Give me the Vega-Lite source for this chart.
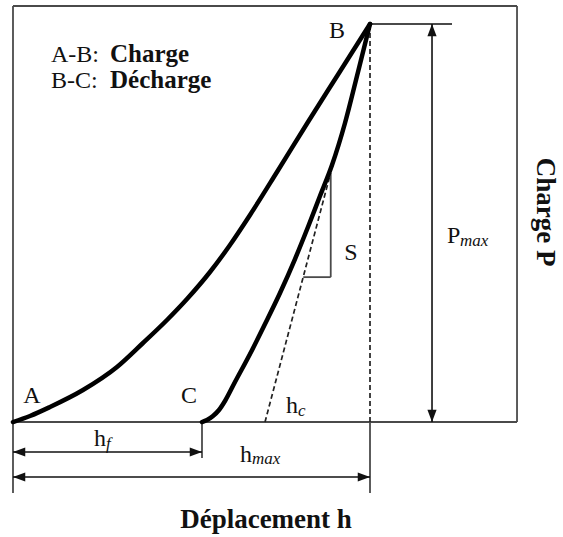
{
  "$schema": "https://vega.github.io/schema/vega-lite/v6.json",
  "description": "Courbe charge-déplacement d'un essai d'indentation : charge A-B, décharge B-C, tangente S et profondeurs h_f, h_c, h_max.",
  "width": 563,
  "height": 537,
  "autosize": {"type": "fit", "contains": "padding"},
  "padding": 0,
  "background": "white",
  "config": {"view": {"stroke": null}, "text": {"font": "Liberation Serif", "color": "#111"}},
  "datasets": {
    "curves": [
      {"branch": "charge", "h": 0, "P": 0},
      {"branch": "charge", "h": 0.0476, "P": 0.0151},
      {"branch": "charge", "h": 0.1036, "P": 0.0377},
      {"branch": "charge", "h": 0.1961, "P": 0.0804},
      {"branch": "charge", "h": 0.2913, "P": 0.1382},
      {"branch": "charge", "h": 0.3641, "P": 0.1985},
      {"branch": "charge", "h": 0.4314, "P": 0.2563},
      {"branch": "charge", "h": 0.4874, "P": 0.309},
      {"branch": "charge", "h": 0.5518, "P": 0.3769},
      {"branch": "charge", "h": 0.6078, "P": 0.4447},
      {"branch": "charge", "h": 0.6639, "P": 0.5201},
      {"branch": "charge", "h": 0.7395, "P": 0.6281},
      {"branch": "charge", "h": 0.8263, "P": 0.7538},
      {"branch": "charge", "h": 0.9132, "P": 0.8769},
      {"branch": "charge", "h": 1.0, "P": 1.0},
      {"branch": "decharge", "h": 0.5294, "P": 0},
      {"branch": "decharge", "h": 0.5434, "P": 0.005},
      {"branch": "decharge", "h": 0.5602, "P": 0.0151},
      {"branch": "decharge", "h": 0.577, "P": 0.0302},
      {"branch": "decharge", "h": 0.5938, "P": 0.0528},
      {"branch": "decharge", "h": 0.6218, "P": 0.1005},
      {"branch": "decharge", "h": 0.6639, "P": 0.1709},
      {"branch": "decharge", "h": 0.7059, "P": 0.2462},
      {"branch": "decharge", "h": 0.7479, "P": 0.3241},
      {"branch": "decharge", "h": 0.7899, "P": 0.4095},
      {"branch": "decharge", "h": 0.8263, "P": 0.4899},
      {"branch": "decharge", "h": 0.8599, "P": 0.5678},
      {"branch": "decharge", "h": 0.8936, "P": 0.6457},
      {"branch": "decharge", "h": 0.93, "P": 0.7513},
      {"branch": "decharge", "h": 0.9664, "P": 0.8794},
      {"branch": "decharge", "h": 1.0, "P": 1.0}
    ],
    "frame": [
      {"part": "bas", "h": 0, "P": 0, "h2": 1.4118, "P2": 0},
      {"part": "haut", "h": 0, "P": 1.0452, "h2": 1.4118, "P2": 1.0452},
      {"part": "gauche", "h": 0, "P": -0.1784, "h2": 0, "P2": 1.0452},
      {"part": "droite", "h": 1.4118, "P": 0, "h2": 1.4118, "P2": 1.0452},
      {"part": "repere hmax", "h": 1.0, "P": -0.1784, "h2": 1.0, "P2": 0},
      {"part": "repere hf", "h": 0.5294, "P": -0.0905, "h2": 0.5294, "P2": 0},
      {"part": "niveau Pmax", "h": 1.0, "P": 1.0, "h2": 1.2297, "P2": 1.0},
      {"part": "S vertical", "h": 0.89, "P": 0.364, "h2": 0.89, "P2": 0.626},
      {"part": "S horizontal", "h": 0.813, "P": 0.364, "h2": 0.89, "P2": 0.364}
    ],
    "dims": [
      {"dim": "Pmax", "h": 1.1737, "P": 0, "h2": 1.1737, "P2": 1.0},
      {"dim": "hf", "h": 0, "P": -0.0754, "h2": 0.5294, "P2": -0.0754},
      {"dim": "hmax", "h": 0, "P": -0.1382, "h2": 1.0, "P2": -0.1382}
    ],
    "heads": [
      {"dim": "Pmax", "dir": "up", "h": 1.1737, "P": 1.0},
      {"dim": "Pmax", "dir": "down", "h": 1.1737, "P": 0},
      {"dim": "hf", "dir": "left", "h": 0, "P": -0.0754},
      {"dim": "hf", "dir": "right", "h": 0.5294, "P": -0.0754},
      {"dim": "hmax", "dir": "left", "h": 0, "P": -0.1382},
      {"dim": "hmax", "dir": "right", "h": 1.0, "P": -0.1382}
    ],
    "dashed": [
      {"line": "hmax", "h": 1.0, "P": 0, "h2": 1.0, "P2": 1.0},
      {"line": "tangente", "h": 0.7059, "P": 0, "h2": 0.888, "P2": 0.62}
    ],
    "points": [
      {"label": "A", "h": 0.0532, "P": 0.0477},
      {"label": "C", "h": 0.493, "P": 0.0477},
      {"label": "B", "h": 0.9076, "P": 0.9648},
      {"label": "S", "h": 0.9468, "P": 0.407}
    ],
    "tags": [
      {"label": "A-B:", "h": 0.1064, "P": 0.9045},
      {"label": "B-C:", "h": 0.1064, "P": 0.8392},
      {"label": "h", "h": 0.7647, "P": 0.0226},
      {"label": "h", "h": 0.2269, "P": -0.0603},
      {"label": "h", "h": 0.6359, "P": -0.1005},
      {"label": "P", "h": 1.2157, "P": 0.4497}
    ],
    "phases": [
      {"label": "Charge", "h": 0.2717, "P": 0.9045},
      {"label": "Décharge", "h": 0.2717, "P": 0.8392}
    ],
    "subs": [
      {"label": "c", "h": 0.7983, "P": 0.0151},
      {"label": "f", "h": 0.2605, "P": -0.0678},
      {"label": "max", "h": 0.6695, "P": -0.1055},
      {"label": "max", "h": 1.2521, "P": 0.4422}
    ],
    "xtitle": [{"label": "Déplacement h", "h": 0.7087, "P": -0.2663}],
    "ytitle": [{"label": "Charge P", "h": 1.4902, "P": 0.5276}]
  },
  "encoding": {
    "x": {"field": "h", "type": "quantitative", "scale": {"domain": [-0.0364, 1.5406], "nice": false, "zero": false}, "axis": null},
    "y": {"field": "P", "type": "quantitative", "scale": {"domain": [-0.2889, 1.0603], "nice": false, "zero": false}, "axis": null}
  },
  "layer": [
    {
      "data": {"name": "frame"},
      "mark": {"type": "rule", "color": "#4a4a4a", "strokeWidth": 1.8},
      "encoding": {"x2": {"field": "h2"}, "y2": {"field": "P2"}}
    },
    {
      "data": {"name": "dashed"},
      "mark": {"type": "rule", "color": "#222", "strokeWidth": 1.7, "strokeDash": [5, 3]},
      "encoding": {"x2": {"field": "h2"}, "y2": {"field": "P2"}}
    },
    {
      "data": {"name": "dims"},
      "mark": {"type": "rule", "color": "#111", "strokeWidth": 1.6},
      "encoding": {"x2": {"field": "h2"}, "y2": {"field": "P2"}}
    },
    {
      "data": {"name": "heads"},
      "mark": {"type": "point", "filled": true, "color": "#111", "opacity": 1, "size": 150, "strokeWidth": 0},
      "encoding": {
        "shape": {
          "field": "dir",
          "type": "nominal",
          "legend": null,
          "scale": {
            "domain": ["up", "down", "left", "right"],
            "range": ["M0,0L-0.75,2L0.75,2Z", "M0,0L-0.75,-2L0.75,-2Z", "M0,0L2,-0.75L2,0.75Z", "M0,0L-2,-0.75L-2,0.75Z"]
          }
        }
      }
    },
    {
      "data": {"name": "curves"},
      "mark": {"type": "line", "color": "#000", "strokeWidth": 4.5, "interpolate": "monotone", "strokeCap": "round", "strokeJoin": "round"},
      "encoding": {"detail": {"field": "branch", "type": "nominal"}}
    },
    {
      "data": {"name": "points"},
      "mark": {"type": "text", "fontSize": 24, "align": "center", "baseline": "alphabetic"},
      "encoding": {"text": {"field": "label"}}
    },
    {
      "data": {"name": "tags"},
      "mark": {"type": "text", "fontSize": 24, "align": "left", "baseline": "alphabetic"},
      "encoding": {"text": {"field": "label"}}
    },
    {
      "data": {"name": "phases"},
      "mark": {"type": "text", "fontSize": 25, "fontWeight": "bold", "align": "left", "baseline": "alphabetic"},
      "encoding": {"text": {"field": "label"}}
    },
    {
      "data": {"name": "subs"},
      "mark": {"type": "text", "fontSize": 17, "fontStyle": "italic", "align": "left", "baseline": "alphabetic"},
      "encoding": {"text": {"field": "label"}}
    },
    {
      "data": {"name": "xtitle"},
      "mark": {"type": "text", "fontSize": 27, "fontWeight": "bold", "align": "center", "baseline": "alphabetic"},
      "encoding": {"text": {"field": "label"}}
    },
    {
      "data": {"name": "ytitle"},
      "mark": {"type": "text", "fontSize": 27, "fontWeight": "bold", "align": "center", "baseline": "middle", "angle": 90},
      "encoding": {"text": {"field": "label"}}
    }
  ]
}
